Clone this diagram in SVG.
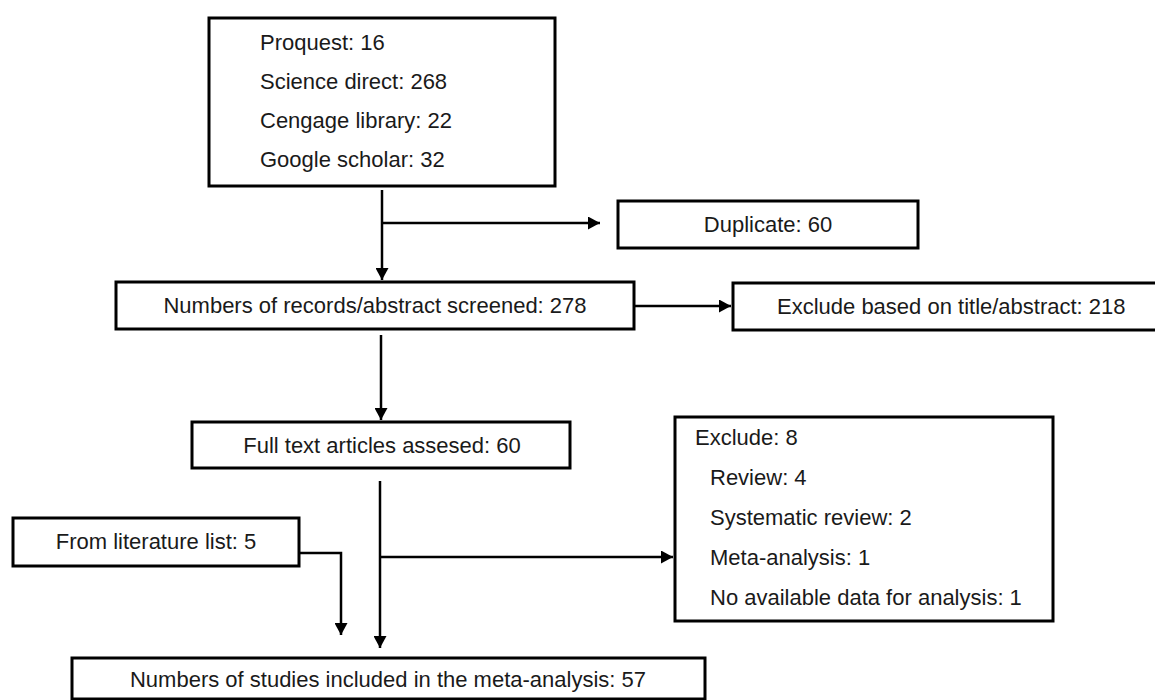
<svg xmlns="http://www.w3.org/2000/svg" width="1155" height="700" viewBox="0 0 1155 700">
<style>
.box{fill:#fff;stroke:#000;stroke-width:3}
.t{font-family:"Liberation Sans",Arial,sans-serif;font-size:22px;fill:#1a1a1a}
.c{text-anchor:middle}
.ln{fill:none;stroke:#000;stroke-width:2.5}
</style>
<defs>
<marker id="ah" markerUnits="userSpaceOnUse" markerWidth="13" markerHeight="13" refX="12" refY="6.5" orient="auto">
<path d="M0,0 L12,6.5 L0,13 z" fill="#000"/>
</marker>
</defs>
<rect width="1155" height="700" fill="#fff"/>
<g id="connectors">
<line class="ln" x1="382" y1="190" x2="382" y2="280" marker-end="url(#ah)"/>
<line class="ln" x1="382" y1="223" x2="600" y2="223" marker-end="url(#ah)"/>
<line class="ln" x1="634" y1="306" x2="731" y2="306" marker-end="url(#ah)"/>
<line class="ln" x1="381" y1="335" x2="381" y2="420" marker-end="url(#ah)"/>
<line class="ln" x1="380" y1="481" x2="380" y2="648" marker-end="url(#ah)"/>
<line class="ln" x1="380" y1="557" x2="673" y2="557" marker-end="url(#ah)"/>
<polyline class="ln" points="299,553 341,553 341,635" marker-end="url(#ah)"/>
</g>
<g id="sources">
<rect class="box" x="209" y="18" width="346" height="168"/>
<text class="t" x="260" y="50">Proquest: 16</text>
<text class="t" x="260" y="89">Science direct: 268</text>
<text class="t" x="260" y="128">Cengage library: 22</text>
<text class="t" x="260" y="167">Google scholar: 32</text>
</g>
<g id="duplicate">
<rect class="box" x="618" y="201" width="300" height="47"/>
<text class="t c" x="768" y="232">Duplicate: 60</text>
</g>
<g id="screened">
<rect class="box" x="116" y="282" width="518" height="47"/>
<text class="t c" x="375" y="313">Numbers of records/abstract screened: 278</text>
</g>
<g id="exclude-title">
<rect class="box" x="733" y="283" width="430" height="47"/>
<text class="t" x="777" y="314">Exclude based on title/abstract: 218</text>
</g>
<g id="fulltext">
<rect class="box" x="192" y="422" width="378" height="46"/>
<text class="t c" x="382" y="453">Full text articles assesed: 60</text>
</g>
<g id="exclude-8">
<rect class="box" x="675" y="417" width="378" height="204"/>
<text class="t" x="695" y="445">Exclude: 8</text>
<text class="t" x="710" y="485">Review: 4</text>
<text class="t" x="710" y="525">Systematic review: 2</text>
<text class="t" x="710" y="565">Meta-analysis: 1</text>
<text class="t" x="710" y="605">No available data for analysis: 1</text>
</g>
<g id="literature">
<rect class="box" x="13" y="518" width="286" height="48"/>
<text class="t c" x="156" y="549">From literature list: 5</text>
</g>
<g id="included">
<rect class="box" x="72" y="658" width="633" height="41"/>
<text class="t c" x="388" y="687">Numbers of studies included in the meta-analysis: 57</text>
</g>
</svg>
